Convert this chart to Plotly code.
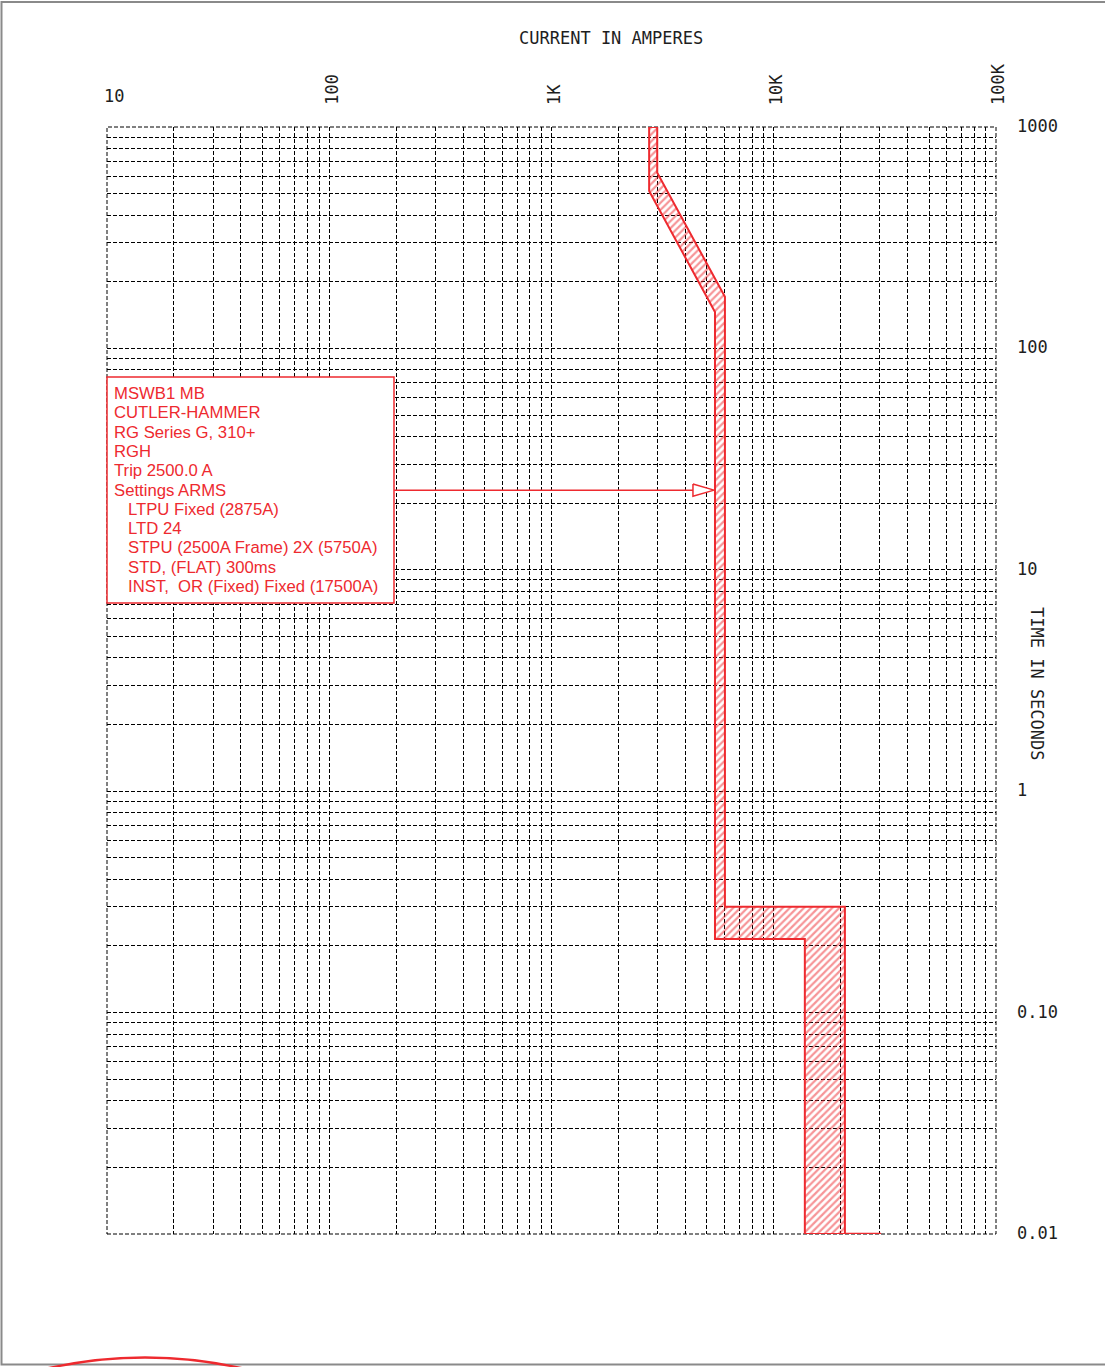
import math
import plotly.graph_objects as go

RED = "#EE2A2F"
INK = "#1e1e1e"

# ---- data: trip band (current in A, time in s) ----
max_curve_amps = [2990, 2990, 6030, 6030, 20900, 20900]
max_curve_secs = [1000, 622, 171, 0.301, 0.301, 0.01]
min_curve_amps = [2750, 2750, 5440, 5440, 13800, 13800]
min_curve_secs = [1000, 514, 146, 0.215, 0.215, 0.01]
inst_tail_amps = [20900, 30400]
inst_tail_secs = [0.01, 0.01]

# label arrow
arrow_shaft_amps = [196, 4330]
arrow_shaft_secs = [22.9, 22.9]
arrow_head_amps = [4330, 5390, 4330, 4330]
arrow_head_secs = [24.4, 22.9, 21.5, 24.4]

label_lines = [
    "MSWB1 MB",
    "CUTLER-HAMMER",
    "RG Series G, 310+",
    "RGH",
    "Trip 2500.0 A",
    "Settings ARMS",
    "LTPU Fixed (2875A)",
    "LTD 24",
    "STPU (2500A Frame) 2X (5750A)",
    "STD, (FLAT) 300ms",
    "INST,\u00a0\u00a0OR (Fixed) Fixed (17500A)",
]
label_indent = [False] * 6 + [True] * 5

x_tick_values = [10, 100, 1000, 10000, 100000]
x_tick_labels = ["10", "100", "1K", "10K", "100K"]
y_tick_values = [1000, 100, 10, 1, 0.1, 0.01]
y_tick_labels = ["1000", "100", "10", "1", "0.10", "0.01"]

X_RANGE = [1, 5]
Y_RANGE = [-2, 3]

W, H = 1105, 1367
ML, MR, MT, MB = 107, 109, 127, 133
PW, PH = W - ML - MR, H - MT - MB


def px_x(px):
    return (px - ML) / PW


def px_y(py):
    return (H - MB - py) / PH


def xp(v):
    return (math.log10(v) - X_RANGE[0]) / (X_RANGE[1] - X_RANGE[0])


def yp(v):
    return (math.log10(v) - Y_RANGE[0]) / (Y_RANGE[1] - Y_RANGE[0])


fig = go.Figure()

poly_x = max_curve_amps + min_curve_amps[::-1] + [max_curve_amps[0]]
poly_y = max_curve_secs + min_curve_secs[::-1] + [max_curve_secs[0]]

fig.add_trace(go.Scatter(
    x=poly_x, y=poly_y, mode="lines", fill="toself",
    fillcolor="rgba(0,0,0,0)",
    fillpattern=dict(shape="/", fgcolor=RED, bgcolor="rgba(0,0,0,0)",
                     size=5, solidity=0.45),
    line=dict(color=RED, width=2), cliponaxis=False,
    hoverinfo="skip", showlegend=False,
))
fig.add_trace(go.Scatter(
    x=inst_tail_amps, y=inst_tail_secs, mode="lines",
    line=dict(color=RED, width=2.5), cliponaxis=False,
    hoverinfo="skip", showlegend=False,
))
fig.add_trace(go.Scatter(
    x=arrow_shaft_amps, y=arrow_shaft_secs, mode="lines",
    line=dict(color=RED, width=1.5), cliponaxis=False,
    hoverinfo="skip", showlegend=False,
))
fig.add_trace(go.Scatter(
    x=arrow_head_amps, y=arrow_head_secs, mode="lines",
    line=dict(color=RED, width=1.5), fill="toself", fillcolor="white",
    cliponaxis=False, hoverinfo="skip", showlegend=False,
))

axis_common = dict(
    type="log", dtick="D1", showticklabels=False, ticks="",
    showgrid=True, gridcolor="black", gridwidth=1, griddash="4px,2px",
    showline=False, zeroline=False, fixedrange=True,
)

shapes = [
    # dashed frame (edge gridlines)
    dict(type="rect", xref="paper", yref="paper",
         x0=0, x1=1, y0=0, y1=1,
         line=dict(color="black", width=1, dash="4px,2px"),
         fillcolor="rgba(0,0,0,0)", layer="below"),
    # label box
    dict(type="rect", xref="paper", yref="paper",
         x0=px_x(107), x1=px_x(394), y0=px_y(603), y1=px_y(377),
         line=dict(color=RED, width=1.5), fillcolor="white", layer="above"),
    # page frame
    dict(type="rect", xref="paper", yref="paper",
         x0=px_x(1.5), x1=px_x(1200), y0=px_y(1364.5), y1=px_y(2),
         line=dict(color="#8a8a8a", width=2), fillcolor="rgba(0,0,0,0)",
         layer="above"),
    # cut-off stamp arc
    dict(type="circle", xref="paper", yref="paper",
         x0=px_x(145 - 440), x1=px_x(145 + 440),
         y0=px_y(1357.5 + 880), y1=px_y(1357.5),
         line=dict(color=RED, width=2.5), fillcolor="rgba(0,0,0,0)",
         layer="above"),
]

annotations = []
mono = dict(family="DejaVu Sans Mono, Liberation Mono, monospace", size=17, color=INK)

for i, (txt, ind) in enumerate(zip(label_lines, label_indent)):
    annotations.append(dict(
        text=txt, xref="paper", yref="paper",
        x=px_x(126 if ind else 112), y=px_y(393.5 + i * 19.3),
        xanchor="left", yanchor="middle", showarrow=False,
        font=dict(family="Liberation Sans, Arial, sans-serif", size=16.7, color=RED),
    ))

annotations.append(dict(
    text="CURRENT IN AMPERES", xref="paper", yref="paper",
    x=px_x(611), y=px_y(38), xanchor="center", yanchor="middle",
    showarrow=False, font=mono,
))
annotations.append(dict(
    text="TIME IN SECONDS", xref="paper", yref="paper",
    x=px_x(1037), y=px_y(684), xanchor="center", yanchor="middle",
    textangle=90, showarrow=False, font=mono,
))

for v, lab in zip(x_tick_values, x_tick_labels):
    if v == x_tick_values[0]:
        annotations.append(dict(
            text=lab, xref="paper", yref="paper", x=xp(v), y=px_y(96),
            xanchor="left", yanchor="middle", xshift=-5,
            showarrow=False, font=mono,
        ))
    else:
        annotations.append(dict(
            text=lab, xref="paper", yref="paper", x=xp(v), y=px_y(107),
            xanchor="center", yanchor="bottom", textangle=-90, xshift=2,
            showarrow=False, font=mono,
        ))

for v, lab in zip(y_tick_values, y_tick_labels):
    annotations.append(dict(
        text=lab, xref="paper", yref="paper", x=px_x(1015), y=yp(v),
        xanchor="left", yanchor="middle", yshift=1,
        showarrow=False, font=mono,
    ))

fig.update_layout(
    width=W, height=H, autosize=False,
    margin=dict(l=ML, r=MR, t=MT, b=MB, pad=0),
    paper_bgcolor="white", plot_bgcolor="white",
    xaxis=dict(range=X_RANGE, **axis_common),
    yaxis=dict(range=Y_RANGE, **axis_common),
    shapes=shapes, annotations=annotations, showlegend=False,
)

fig.write_html("out.html")
